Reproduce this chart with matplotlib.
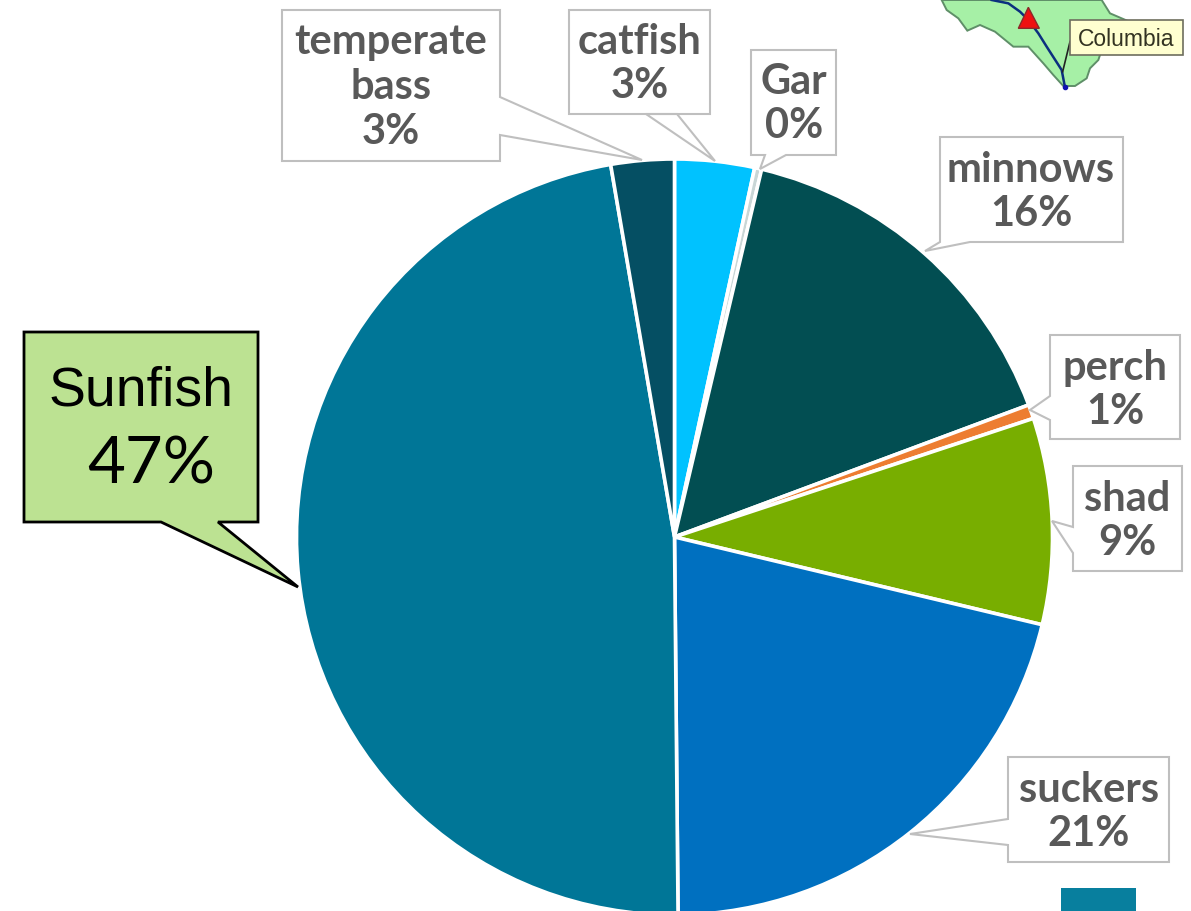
import matplotlib
matplotlib.use("Agg")
import matplotlib.pyplot as plt
from matplotlib.patches import Polygon, Rectangle

W, H = 1191, 912

# Pie data, clockwise from 12 o'clock
fish_names = ["catfish", "Gar", "minnows", "perch", "shad", "suckers", "Sunfish", "temperate bass"]
fish_share = [3.4, 0.3, 15.6, 0.6, 8.8, 21.1, 47.4, 2.7]
fish_colors = ["#00C2FF", "#C9D6D6", "#024E52", "#ED7D31", "#78AE00", "#0070C0", "#007697", "#054F63"]

GREY = "#595959"
BORDER = "#BFBFBF"


def px(x, y):
    # picture pixels (y down) to axes coordinates (y up)
    return x, H - y - 1


def zoomed(points):
    return [px(880 + x / 3, y / 3) for x, y in points]


def callout(ax, box, tail, face="white", edge=BORDER, lw=1.5):
    """Rectangle with a pointer. tail = (index of side start, base1, tip, base2)"""
    left, top, right, bottom = box
    corners = [(left, top), (right, top), (right, bottom), (left, bottom)]
    side, base1, tip, base2 = tail
    pts = corners[:side + 1] + [base1, tip, base2] + corners[side + 1:]
    ax.add_patch(Polygon([px(*p) for p in pts], closed=True, facecolor=face,
                         edgecolor=edge, linewidth=lw, joinstyle="miter", zorder=3))


def label(ax, x, y, text, size=30):
    ax.text(*px(x, y), text, ha="center", va="center", fontsize=size, color=GREY,
            family="Lato", fontweight="bold", linespacing=1.22, zorder=4)


fig = plt.figure(figsize=(W / 100, H / 100), dpi=100)
ax = fig.add_axes([0, 0, 1, 1])
ax.set_xlim(0, W)
ax.set_ylim(0, H)
ax.axis("off")

ax.pie(fish_share, colors=fish_colors, startangle=90, counterclock=False,
       center=px(674.5, 537), radius=378, frame=True,
       wedgeprops={"edgecolor": "white", "linewidth": 2.6})
ax.set_xlim(0, W)
ax.set_ylim(0, H)
ax.set_aspect("auto")
ax.axis("off")

# Callouts
callout(ax, (282, 10, 500, 161), (1, (500, 97), (642, 160), (500, 135)))
label(ax, 391, 86, "temperate\nbass\n3%")
callout(ax, (569, 10, 710, 114), (2, (646, 114), (715, 161), (677, 114)))
label(ax, 640, 63, "catfish\n3%")
callout(ax, (751, 50, 836, 155), (2, (786, 155), (760, 169), (765, 155)))
label(ax, 794, 103, "Gar\n0%")
callout(ax, (940, 137, 1123, 242), (2, (970, 242), (925, 251), (940, 242)))
label(ax, 1031, 191, "minnows\n16%")
callout(ax, (1050, 335, 1180, 439), (3, (1050, 420), (1030, 410), (1050, 396)))
label(ax, 1115, 389, "perch\n1%")
callout(ax, (1073, 466, 1182, 571), (3, (1073, 553), (1052, 521), (1073, 527)))
label(ax, 1127, 520, "shad\n9%")
callout(ax, (1008, 757, 1169, 862), (3, (1008, 845), (910, 834), (1008, 819)))
label(ax, 1089, 811, "suckers\n21%")

# Sunfish callout is the highlighted one
callout(ax, (24, 332, 258, 522), (2, (218, 522), (298, 587), (161, 522)),
        face="#BCE292", edge="black", lw=2)
ax.text(*px(141, 391), "Sunfish", ha="center", va="center", fontsize=40,
        family="Liberation Sans", color="black", zorder=4)
ax.text(*px(151, 464), "47%", ha="center", va="center", fontsize=47,
        family="Lato", color="black", zorder=4)

# Map fragment in the top right corner
basin = [(185, 0), (200, 30), (235, 55), (262, 92), (300, 75), (345, 95), (400, 140),
         (445, 140), (490, 190), (520, 225), (550, 258), (585, 258), (620, 235),
         (630, 205), (655, 180), (665, 150), (760, 70), (690, 40), (665, 0)]
ax.add_patch(Polygon(zoomed(basin), closed=True, facecolor="#A6F0A6",
                     edgecolor="#5F8F68", linewidth=1.4, zorder=2))
river = [(335, 0), (385, 10), (420, 35), (445, 60), (475, 100), (500, 140), (545, 210), (555, 262)]
ax.plot(*zip(*zoomed(river)), color="#0B2F7F", linewidth=1.8, zorder=2)
ax.plot(*zip(*zoomed([(555, 262)])), "o", color="#1010B0", markersize=3, zorder=2)
ax.plot(*zip(*zoomed([(570, 125), (548, 215)])), color="#222222", linewidth=1.2, zorder=2)
ax.add_patch(Polygon(zoomed([(445, 22), (415, 85), (478, 85)]), closed=True,
                     facecolor="#EE1111", edgecolor="#8A2A2A", linewidth=1, zorder=3))
x0, y0 = zoomed([(570, 165)])[0]
ax.add_patch(Rectangle((x0, y0), 338 / 3, 105 / 3, facecolor="#FFFFD0",
                       edgecolor="#6E6E5E", linewidth=1.2, zorder=3))
ax.text(*zoomed([(737, 115)])[0], "Columbia", ha="center", va="center", fontsize=16.5,
        family="Liberation Sans", color="#333322", zorder=4)

# Cut-off box at the bottom edge
ax.add_patch(Rectangle(px(1061, 912), 75, 24, facecolor="#087F9E", edgecolor="none", zorder=2))

fig.savefig("out.png", dpi=100, facecolor="white")
